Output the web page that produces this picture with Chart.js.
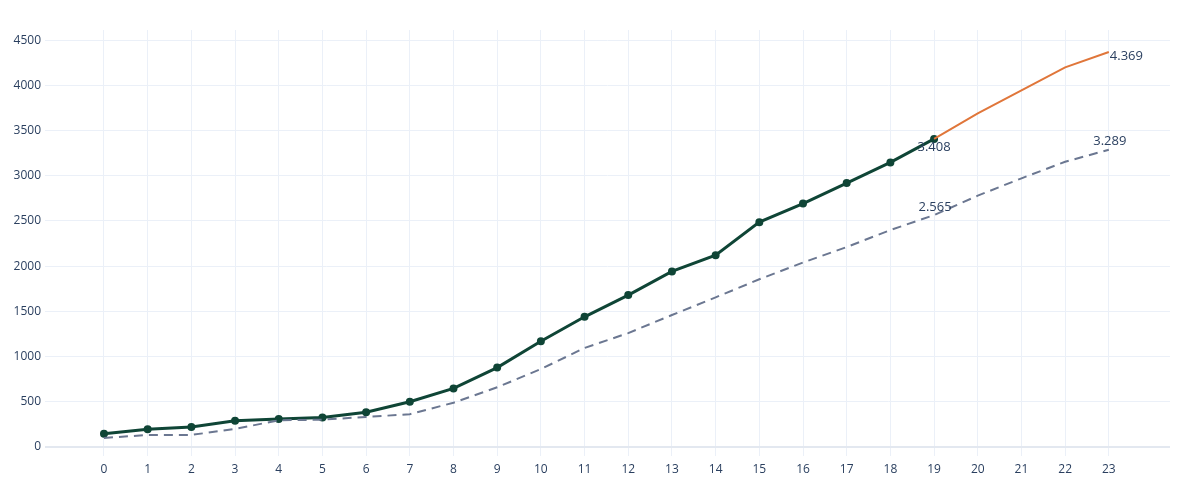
<!DOCTYPE html>
<html>
<head>
<meta charset="utf-8">
<script src="https://cdn.jsdelivr.net/npm/chart.js@4.4.1/dist/chart.umd.min.js"></script>
<style>
  html, body { margin: 0; padding: 0; background: #fff; }
  #wrap { width: 1200px; height: 500px; position: relative; }
</style>
</head>
<body>
<div id="wrap"><canvas id="growthChart"></canvas></div>
<script>
// x positions 0..23
const steps = Array.from({ length: 24 }, (_, i) => i);

// observed (solid, with markers) up to step 19
const actual = [145, 197, 221, 290, 310, 325, 385, 500, 648, 878, 1170, 1440, 1680, 1942, 2122, 2487, 2693, 2920, 3148, 3408];

// forecast continuation from step 19
const forecast = [3408, 3690, 3945, 4200, 4369];

// baseline (dashed)
const baseline = [100, 133, 133, 199, 295, 302, 332, 362, 490, 660, 862, 1095, 1260, 1460, 1655, 1855, 2040, 2212, 2400, 2565, 2780, 2972, 3155, 3289];

const yTicks = [0, 500, 1000, 1500, 2000, 2500, 3000, 3500, 4000, 4500];

const toPoints = (arr, start) => arr.map((v, i) => ({ x: start + i, y: v }));

// "3408" -> "3.408"
const fmt = v => String(v).replace(/\B(?=(\d{3})+(?!\d))/g, '.');

const Labels = {
    id: 'endLabels',
    afterDatasetsDraw(chart) {
        const { ctx, scales: { x, y } } = chart;
        const items = [
            { xv: 19, yv: actual[actual.length - 1], dx: 0, dy: 8, align: 'center' },
            { xv: 19, yv: baseline[19], dx: 1, dy: -8, align: 'center' },
            { xv: 23, yv: forecast[forecast.length - 1], dx: 1, dy: 4, align: 'left' },
            { xv: 23, yv: baseline[23], dx: 1, dy: -8, align: 'center' }
        ];
        ctx.save();
        ctx.font = '13px "Open Sans", sans-serif';
        ctx.fillStyle = '#2a3f5f';
        ctx.textBaseline = 'middle';
        items.forEach(it => {
            ctx.textAlign = it.align;
            ctx.fillText(fmt(it.yv), x.getPixelForValue(it.xv) + it.dx, y.getPixelForValue(it.yv) + it.dy);
        });
        ctx.restore();
    }
};

const ctx = document.getElementById('growthChart').getContext('2d');
new Chart(ctx, {
    type: 'line',
    data: {
        datasets: [
            {
                label: 'baseline',
                data: toPoints(baseline, 0),
                borderColor: '#6b7791',
                borderWidth: 2,
                borderDash: [9, 6],
                pointRadius: 0,
                fill: false,
                tension: 0
            },
            {
                label: 'forecast',
                data: toPoints(forecast, 19),
                borderColor: '#e0763a',
                borderWidth: 2,
                pointRadius: 0,
                fill: false,
                tension: 0
            },
            {
                label: 'actual',
                data: toPoints(actual, 0),
                borderColor: '#0f4536',
                backgroundColor: '#0f4536',
                borderWidth: 3,
                pointRadius: 2.5,
                pointHoverRadius: 2.5,
                fill: false,
                tension: 0
            }
        ]
    },
    options: {
        responsive: true,
        maintainAspectRatio: false,
        animation: false,
        layout: { padding: { left: 0, right: 30, top: 30, bottom: 14 } },
        scales: {
            x: {
                type: 'linear',
                min: -1.35,
                max: 24.4,
                afterBuildTicks: axis => { axis.ticks = steps.map(v => ({ value: v })); },
                afterFit: axis => { axis.height = 30; },
                grid: { color: '#ebf0f8', drawTicks: false },
                border: { display: false },
                ticks: {
                    color: '#2a3f5f',
                    font: { family: '"Open Sans", sans-serif', size: 12 },
                    padding: 6,
                    maxRotation: 0,
                    autoSkip: false,
                    callback: v => String(v)
                }
            },
            y: {
                min: -100,
                max: 4613,
                afterBuildTicks: axis => { axis.ticks = yTicks.map(v => ({ value: v })); },
                afterFit: axis => { axis.width = 45; },
                grid: {
                    color: ctx => ctx.tick && ctx.tick.value === 0 ? '#e3e8f0' : '#ebf0f8',
                    lineWidth: ctx => ctx.tick && ctx.tick.value === 0 ? 2 : 1,
                    drawTicks: false
                },
                border: { display: false },
                ticks: {
                    color: '#2a3f5f',
                    font: { family: '"Open Sans", sans-serif', size: 12 },
                    padding: 4,
                    callback: v => String(v)
                }
            }
        },
        plugins: {
            legend: { display: false },
            tooltip: { enabled: false }
        }
    },
    plugins: [Labels]
});
</script>
</body>
</html>
